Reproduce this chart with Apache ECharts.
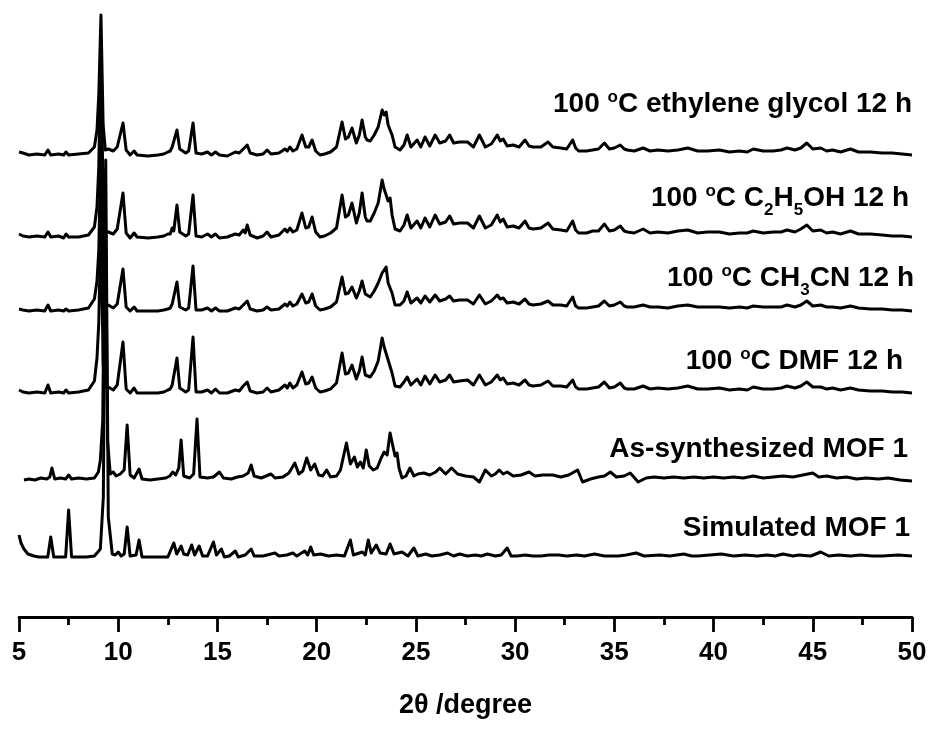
<!DOCTYPE html>
<html>
<head>
<meta charset="utf-8">
<script src="https://cdn.jsdelivr.net/npm/echarts@6/dist/echarts.min.js"></script>
<style>
  html, body { margin: 0; padding: 0; background: #fff; }
  #chart { width: 933px; height: 729px; }
</style>
</head>
<body>
<div id="chart"></div>
<script>
// 2theta / intensity pairs, intensity relative to each trace's own baseline
const egData = [[5.0,3],[5.2,2],[5.5,0],[5.9,1],[6.3,0],[6.46,5],[6.6,0],[7.0,1],[7.25,0],[7.37,3],[7.5,0],[8.0,1],[8.5,2],[8.8,8],[8.93,25],[9.02,60],[9.13,140],[9.24,30],[9.35,5],[9.5,6],[9.6,8],[9.75,4],[9.95,8],[10.24,32],[10.4,5],[10.6,0],[10.8,4],[10.95,0],[11.5,-1],[12.0,0],[12.3,1],[12.5,3],[12.62,4],[12.72,8],[12.8,6],[12.96,25],[13.1,6],[13.4,2],[13.55,4],[13.77,32],[13.92,2],[14.2,1],[14.5,3],[14.7,0],[14.9,3],[15.1,0],[15.5,-1],[15.9,3],[16.1,2],[16.3,6],[16.4,4],[16.5,10],[16.65,2],[17.0,0],[17.3,1],[17.5,5],[17.7,1],[18.1,2],[18.4,6],[18.52,4],[18.65,8],[18.8,4],[19.0,6],[19.26,20],[19.45,8],[19.6,8],[19.77,15],[19.95,4],[20.17,0],[20.4,1],[20.7,3],[21.0,8],[21.28,33],[21.45,16],[21.6,18],[21.78,27],[22.0,12],[22.15,20],[22.29,35],[22.45,18],[22.54,15],[22.7,14],[22.9,20],[23.1,28],[23.3,45],[23.4,40],[23.5,43],[23.6,30],[23.7,32],[23.8,20],[23.95,8],[24.2,5],[24.4,10],[24.56,20],[24.75,8],[25.06,15],[25.25,8],[25.46,18],[25.7,9],[25.97,20],[26.2,12],[26.5,14],[26.7,20],[26.9,12],[27.2,13],[27.6,13],[27.9,8],[28.2,20],[28.5,8],[28.8,11],[29.1,20],[29.25,14],[29.4,16],[29.6,9],[29.9,10],[30.2,8],[30.5,15],[30.7,9],[30.9,8],[31.3,8],[31.66,13],[31.9,8],[32.3,7],[32.6,6],[32.9,15],[33.05,7],[33.2,4],[33.6,4],[33.9,5],[34.2,6],[34.5,12],[34.75,6],[35.0,7],[35.3,10],[35.5,6],[35.65,5],[36.0,4],[36.45,7],[36.8,4],[37.2,5],[37.7,4],[38.2,5],[38.7,7],[39.2,4],[39.7,4],[40.3,5],[40.8,3],[41.3,4],[41.7,3],[42.0,6],[42.5,4],[43.0,4],[43.4,5],[43.7,7],[44.1,5],[44.4,7],[44.7,12],[45.0,6],[45.4,7],[45.7,4],[46.0,5],[46.4,3],[46.9,6],[47.3,3],[47.9,3],[48.5,2],[49.0,2],[49.5,1],[50.0,0]];
const etohData = [[5.0,3],[5.2,1],[5.5,0],[5.9,1],[6.3,0],[6.46,5],[6.6,0],[7.0,1],[7.25,-1],[7.37,3],[7.5,0],[8.0,0],[8.5,2],[8.8,10],[8.93,30],[9.02,70],[9.13,190],[9.24,35],[9.35,6],[9.5,5],[9.6,7],[9.75,3],[9.95,8],[10.24,44],[10.4,4],[10.6,-1],[10.8,4],[10.95,0],[11.5,-1],[12.0,0],[12.3,1],[12.5,3],[12.62,3],[12.72,9],[12.8,6],[12.96,32],[13.1,5],[13.4,1],[13.55,3],[13.77,42],[13.92,1],[14.2,0],[14.5,3],[14.7,0],[14.9,3],[15.1,-1],[15.5,0],[15.9,3],[16.1,2],[16.3,7],[16.4,4],[16.5,12],[16.65,2],[17.0,-1],[17.3,1],[17.5,5],[17.7,0],[18.1,2],[18.4,8],[18.52,5],[18.65,9],[18.8,5],[19.0,7],[19.26,24],[19.45,9],[19.6,10],[19.77,20],[19.95,5],[20.17,0],[20.4,1],[20.7,4],[21.0,9],[21.28,42],[21.45,20],[21.6,22],[21.78,34],[22.0,14],[22.15,24],[22.29,44],[22.45,20],[22.54,16],[22.7,16],[22.9,24],[23.1,34],[23.3,57],[23.4,48],[23.5,50],[23.6,36],[23.7,39],[23.8,22],[23.95,8],[24.2,6],[24.4,12],[24.56,22],[24.75,9],[25.06,16],[25.25,9],[25.46,19],[25.7,10],[25.97,22],[26.2,13],[26.5,15],[26.7,21],[26.9,13],[27.2,14],[27.6,14],[27.9,9],[28.2,21],[28.5,9],[28.8,12],[29.1,22],[29.25,15],[29.4,18],[29.6,10],[29.9,11],[30.2,9],[30.5,16],[30.7,9],[30.9,8],[31.3,9],[31.66,14],[31.9,8],[32.3,7],[32.6,6],[32.9,16],[33.05,7],[33.2,4],[33.6,4],[33.9,6],[34.2,6],[34.5,13],[34.75,6],[35.0,7],[35.3,11],[35.5,6],[35.65,5],[36.0,4],[36.45,8],[36.8,4],[37.2,5],[37.7,4],[38.2,6],[38.7,7],[39.2,4],[39.7,5],[40.3,5],[40.8,3],[41.3,4],[41.7,4],[42.0,6],[42.5,4],[43.0,5],[43.4,5],[43.7,7],[44.1,5],[44.4,8],[44.7,12],[45.0,6],[45.4,7],[45.7,4],[46.0,5],[46.4,3],[46.9,6],[47.3,3],[47.9,3],[48.5,2],[49.0,1],[49.5,1],[50.0,0]];
const mecnData = [[5.0,2],[5.2,1],[5.5,0],[5.9,1],[6.3,0],[6.46,6],[6.6,0],[7.0,1],[7.25,0],[7.37,2],[7.5,0],[8.0,1],[8.5,3],[8.8,12],[8.93,30],[9.02,60],[9.13,170],[9.24,30],[9.35,5],[9.5,6],[9.6,7],[9.75,3],[9.95,7],[10.24,42],[10.4,4],[10.6,0],[10.8,4],[10.95,0],[11.5,0],[12.0,0],[12.3,1],[12.5,2],[12.62,3],[12.72,7],[12.8,5],[12.96,29],[13.1,4],[13.4,1],[13.55,3],[13.77,45],[13.92,1],[14.2,1],[14.5,3],[14.7,0],[14.9,3],[15.1,0],[15.5,0],[15.9,3],[16.1,2],[16.3,6],[16.4,4],[16.5,10],[16.65,2],[17.0,0],[17.3,1],[17.5,4],[17.7,1],[18.1,2],[18.4,7],[18.52,5],[18.65,9],[18.8,5],[19.0,7],[19.26,17],[19.45,8],[19.6,9],[19.77,17],[19.95,5],[20.17,1],[20.4,2],[20.7,4],[21.0,9],[21.28,34],[21.45,17],[21.6,18],[21.78,24],[22.0,13],[22.15,20],[22.29,30],[22.45,17],[22.54,15],[22.7,14],[22.9,20],[23.1,28],[23.3,38],[23.4,36],[23.5,44],[23.6,28],[23.7,30],[23.8,18],[23.95,6],[24.2,6],[24.4,10],[24.56,19],[24.75,8],[25.06,13],[25.25,8],[25.46,15],[25.7,9],[25.97,16],[26.2,10],[26.5,12],[26.7,15],[26.9,10],[27.2,11],[27.6,11],[27.9,7],[28.2,16],[28.5,7],[28.8,10],[29.1,16],[29.25,12],[29.4,13],[29.6,8],[29.9,9],[30.2,7],[30.5,12],[30.7,7],[30.9,6],[31.3,7],[31.66,10],[31.9,6],[32.3,6],[32.6,5],[32.9,14],[33.05,5],[33.2,3],[33.6,3],[33.9,4],[34.2,5],[34.5,10],[34.75,5],[35.0,6],[35.3,9],[35.5,5],[35.65,4],[36.0,4],[36.45,6],[36.8,4],[37.2,4],[37.7,3],[38.2,5],[38.7,6],[39.2,4],[39.7,4],[40.3,4],[40.8,3],[41.3,4],[41.7,3],[42.0,5],[42.5,4],[43.0,4],[43.4,4],[43.7,6],[44.1,4],[44.4,6],[44.7,10],[45.0,5],[45.4,6],[45.7,4],[46.0,4],[46.4,3],[46.9,5],[47.3,3],[47.9,2],[48.5,2],[49.0,1],[49.5,1],[50.0,0]];
const dmfData = [[5.0,3],[5.2,1],[5.5,0],[5.9,1],[6.3,0],[6.46,8],[6.6,0],[7.0,1],[7.25,0],[7.37,3],[7.5,0],[8.0,1],[8.5,3],[8.8,12],[8.93,35],[9.02,70],[9.13,175],[9.24,30],[9.35,6],[9.5,6],[9.6,8],[9.75,3],[9.95,8],[10.24,51],[10.4,4],[10.6,0],[10.8,5],[10.95,0],[11.5,0],[12.0,0],[12.3,1],[12.5,3],[12.62,4],[12.72,8],[12.8,6],[12.96,35],[13.1,5],[13.4,1],[13.55,3],[13.77,56],[13.92,1],[14.2,1],[14.5,3],[14.7,0],[14.9,4],[15.1,0],[15.5,0],[15.9,3],[16.1,2],[16.3,7],[16.4,5],[16.5,11],[16.65,2],[17.0,0],[17.3,1],[17.5,5],[17.7,1],[18.1,3],[18.4,8],[18.52,5],[18.65,10],[18.8,5],[19.0,8],[19.26,21],[19.45,9],[19.6,10],[19.77,16],[19.95,5],[20.17,1],[20.4,2],[20.7,4],[21.0,10],[21.28,40],[21.45,19],[21.6,20],[21.78,28],[22.0,14],[22.15,22],[22.29,36],[22.45,18],[22.54,16],[22.7,16],[22.9,22],[23.1,32],[23.3,55],[23.4,46],[23.5,48],[23.6,33],[23.7,35],[23.8,20],[23.95,7],[24.2,6],[24.4,11],[24.56,16],[24.75,8],[25.06,14],[25.25,8],[25.46,17],[25.7,9],[25.97,18],[26.2,11],[26.5,13],[26.7,18],[26.9,11],[27.2,12],[27.6,13],[27.9,8],[28.2,18],[28.5,8],[28.8,11],[29.1,18],[29.25,13],[29.4,15],[29.6,9],[29.9,10],[30.2,8],[30.5,13],[30.7,8],[30.9,7],[31.3,8],[31.66,12],[31.9,7],[32.3,7],[32.6,6],[32.9,13],[33.05,6],[33.2,4],[33.6,4],[33.9,5],[34.2,6],[34.5,11],[34.75,5],[35.0,6],[35.3,10],[35.5,5],[35.65,4],[36.0,4],[36.45,7],[36.8,4],[37.2,5],[37.7,4],[38.2,5],[38.7,7],[39.2,4],[39.7,4],[40.3,5],[40.8,3],[41.3,4],[41.7,3],[42.0,6],[42.5,4],[43.0,4],[43.4,5],[43.7,7],[44.1,5],[44.4,7],[44.7,11],[45.0,6],[45.4,6],[45.7,4],[46.0,5],[46.4,3],[46.9,5],[47.3,3],[47.9,2],[48.5,2],[49.0,1],[49.5,1],[50.0,0]];
const asSynData = [[5.25,0],[5.5,1],[5.8,0],[6.1,2],[6.4,1],[6.55,3],[6.66,12],[6.8,1],[7.1,2],[7.35,1],[7.5,5],[7.65,1],[8.0,2],[8.4,1],[8.8,2],[9.0,8],[9.1,20],[9.22,60],[9.34,310],[9.46,40],[9.6,6],[9.75,8],[9.9,4],[10.1,6],[10.3,10],[10.45,55],[10.6,5],[10.8,2],[11.05,11],[11.2,1],[11.6,0],[12.0,1],[12.4,2],[12.6,4],[12.75,8],[12.9,5],[13.05,12],[13.17,40],[13.3,4],[13.6,2],[13.8,6],[13.97,61],[14.12,3],[14.5,2],[14.8,3],[15.1,8],[15.3,2],[15.7,1],[16.0,3],[16.3,4],[16.55,7],[16.7,15],[16.85,4],[17.2,2],[17.7,6],[17.9,2],[18.3,3],[18.6,7],[18.9,17],[19.1,6],[19.3,9],[19.5,22],[19.7,10],[19.9,16],[20.1,5],[20.3,4],[20.5,10],[20.7,3],[21.0,4],[21.2,10],[21.5,37],[21.7,16],[21.9,23],[22.05,13],[22.2,18],[22.35,12],[22.5,30],[22.65,14],[22.85,10],[23.05,12],[23.25,22],[23.4,28],[23.55,25],[23.7,47],[23.85,33],[23.95,24],[24.05,27],[24.15,12],[24.3,2],[24.5,4],[24.7,12],[24.9,4],[25.1,6],[25.4,7],[25.7,5],[26.0,8],[26.2,12],[26.5,6],[26.8,12],[27.1,6],[27.5,4],[27.9,3],[28.2,-2],[28.5,10],[28.8,4],[29.0,6],[29.2,10],[29.4,6],[29.6,8],[29.9,4],[30.3,5],[30.7,8],[31.0,4],[31.4,5],[31.9,5],[32.3,3],[32.7,5],[33.15,10],[33.4,-2],[33.8,1],[34.2,3],[34.5,4],[34.8,8],[35.1,3],[35.5,4],[35.8,7],[36.2,-2],[36.6,2],[37.0,3],[37.5,2],[38.0,3],[38.5,2],[39.0,3],[39.5,2],[40.0,3],[40.5,2],[41.0,3],[41.5,2],[42.0,4],[42.5,2],[43.0,3],[43.5,4],[44.0,3],[44.5,5],[45.0,7],[45.3,3],[45.7,4],[46.2,2],[46.7,3],[47.2,1],[47.7,2],[48.3,1],[48.8,2],[49.4,0],[50.0,-1]];
const simData = [[5.0,22],[5.1,14],[5.25,8],[5.45,3],[5.75,1],[6.0,0],[6.45,0],[6.6,20],[6.75,0],[7.35,0],[7.5,47],[7.65,0],[8.4,0],[8.8,1],[9.1,8],[9.25,60],[9.37,397],[9.5,40],[9.7,3],[9.85,2],[10.0,5],[10.15,1],[10.3,3],[10.45,30],[10.6,1],[10.9,2],[11.05,17],[11.2,0],[11.8,0],[12.5,0],[12.8,14],[12.95,3],[13.17,11],[13.3,3],[13.5,2],[13.7,12],[13.85,2],[14.08,11],[14.25,1],[14.5,1],[14.8,15],[14.95,2],[15.2,8],[15.35,0],[15.6,1],[15.9,6],[16.05,0],[16.4,2],[16.7,8],[16.85,1],[17.3,1],[17.9,4],[18.1,1],[18.5,2],[18.8,4],[19.0,1],[19.4,6],[19.55,2],[19.7,10],[19.85,2],[20.2,3],[20.6,1],[21.0,2],[21.4,1],[21.7,17],[21.85,2],[22.3,5],[22.45,2],[22.6,17],[22.75,4],[23.0,12],[23.2,4],[23.5,3],[23.7,13],[23.9,3],[24.3,5],[24.6,1],[24.9,9],[25.1,1],[25.5,3],[25.8,1],[26.2,2],[26.6,4],[26.9,1],[27.2,3],[27.6,1],[28.0,2],[28.3,1],[28.6,3],[29.0,1],[29.3,2],[29.6,9],[29.8,1],[30.1,1],[30.5,2],[30.9,1],[31.3,1],[31.7,2],[32.2,2],[32.6,1],[33.1,2],[33.5,1],[34.0,3],[34.5,1],[35.2,1],[35.6,2],[36.1,4],[36.5,1],[37.3,2],[37.8,1],[38.5,3],[38.9,1],[39.2,1],[39.8,2],[40.4,3],[41.0,1],[41.6,2],[42.2,1],[42.7,2],[43.1,1],[43.5,3],[44.0,1],[44.3,2],[44.9,1],[45.4,5],[45.8,1],[46.3,2],[46.9,1],[47.4,2],[48.0,1],[48.5,1],[49.3,2],[50.0,1]];

// vertical stacking offsets of each pattern (same order as the series)
const offsets = [462, 380, 306, 224, 137, 60];
const seriesData = [egData, etohData, mecnData, dmfData, asSynData, simData];
const labels = [
  '100 {sup|o}C ethylene glycol 12 h',
  '100 {sup|o}C C{sub|2}H{sub|5}OH 12 h',
  '100 {sup|o}C CH{sub|3}CN 12 h',
  '100 {sup|o}C DMF 12 h',
  'As-synthesized MOF 1',
  'Simulated MOF 1',
];
const labelPos = [[912, 104], [909, 198], [914, 278], [903, 361], [908, 449], [910, 528]];

const FONT = "'Liberation Sans', Arial, sans-serif";
const chart = echarts.init(document.getElementById('chart'));

const option = {
  animation: false,
  backgroundColor: '#fff',
  grid: {
    left: 19,
    right: 21,
    top: 0,
    bottom: 112,
  },
  xAxis: {
    type: 'value',
    min: 5,
    max: 50,
    interval: 5,
    name: '2θ /degree',
    nameLocation: 'middle',
    nameGap: 75,
    nameTextStyle: {
      color: '#000',
      fontSize: 27,
      fontWeight: 'bold',
      fontFamily: FONT,
    },
    axisLine: {
      lineStyle: { color: '#000', width: 2.8 },
    },
    axisTick: {
      inside: false,
      length: 15,
      lineStyle: { color: '#000', width: 2.8 },
    },
    minorTick: {
      show: true,
      splitNumber: 2,
      length: 8,
      lineStyle: { color: '#000', width: 2.8 },
    },
    axisLabel: {
      color: '#000',
      fontSize: 26,
      fontWeight: 'bold',
      fontFamily: FONT,
      margin: 23,
    },
    splitLine: { show: false },
  },
  yAxis: {
    type: 'value',
    min: 0,
    max: 617,
    show: false,
  },
  series: seriesData.map((data, i) => ({
    type: 'line',
    showSymbol: false,
    lineStyle: { color: '#000', width: 3, join: 'round' },
    data: data.map((p) => [p[0], p[1] + offsets[i]]),
  })),
  graphic: labels.map((txt, i) => ({
    type: 'text',
    x: labelPos[i][0],
    y: labelPos[i][1],
    style: {
      text: txt,
      align: 'right',
      verticalAlign: 'middle',
      fill: '#000',
      fontSize: 28,
      fontWeight: 'bold',
      fontFamily: FONT,
      lineHeight: 30,
      rich: {
        sup: {
          fontSize: 17,
          fontWeight: 'bold',
          fontFamily: FONT,
          verticalAlign: 'top',
        },
        sub: {
          fontSize: 17,
          fontWeight: 'bold',
          fontFamily: FONT,
          verticalAlign: 'top',
          padding: [19, 0, 0, 0],
        },
      },
    },
  })),
};
chart.setOption(option);
</script>
</body>
</html>
